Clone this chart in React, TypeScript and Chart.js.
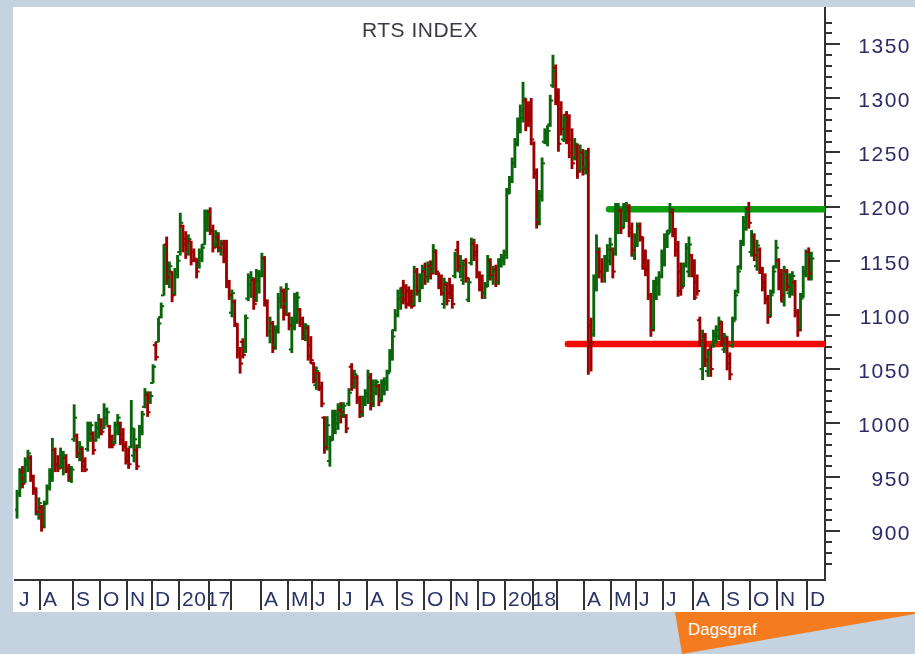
import React, { useEffect, useRef } from 'react';
import { Chart, registerables } from 'chart.js';

Chart.register(...registerables);

const chartTitle = 'RTS INDEX';
const tabLabel = 'Dagsgraf';

// Daily bars, each [open, high, low, close]
const ohlc2016: number[][] = [
  // Jul
  [920,938,912,935],[935,958,932,952],[955,960,940,944],[946,968,945,965],[962,975,955,972],[968,970,946,950],[948,952,934,940],[938,940,915,918],[916,931,911,926],
  // Aug
  [922,924,900,905],[906,928,903,925],[926,943,925,940],[940,958,938,955],[952,986,946,975],[975,977,955,960],[962,970,955,958],[960,977,958,972],[962,974,952,970],[968,971,954,956],[958,962,946,948],[947,960,945,957],
  // Sep
  [985,1017,983,1005],[988,990,968,972],[970,983,965,978],[976,978,955,960],[965,968,955,957],[976,1001,974,995],[985,1001,983,998],[990,992,971,975],[984,1001,983,996],[995,1008,986,1003],
  // Oct
  [1003,1004,989,992],[995,1018,995,1012],[1005,1014,998,1010],[997,998,977,980],[988,989,977,980],[982,1001,981,998],[992,1008,989,1005],[1000,1001,980,985],[990,995,974,978],[980,983,962,965],
  // Nov
  [970,977,958,962],[978,1021,977,995],[970,995,964,985],[975,980,957,960],[978,998,977,992],[992,1011,989,1008],[1015,1032,1014,1028],[1026,1029,1006,1010],[1020,1029,1018,1025],
  // Dec
  [1037,1054,1037,1052],[1072,1075,1058,1061],[1075,1097,1075,1092],[1098,1111,1097,1108],[1118,1165,1118,1160],[1165,1172,1128,1135],[1130,1149,1125,1145],[1140,1140,1112,1118],[1120,1143,1118,1138],[1138,1155,1134,1150],
];

const ohlc2017: number[][] = [
  // Jan
  [1158,1194,1155,1185],[1182,1183,1158,1165],[1170,1177,1152,1158],[1158,1174,1155,1170],[1168,1168,1146,1150],[1158,1161,1149,1152],[1150,1152,1134,1140],[1145,1161,1143,1158],[1152,1165,1149,1162],[1165,1197,1165,1190],[1185,1197,1177,1192],
  // Feb
  [1195,1199,1174,1178],[1178,1183,1158,1162],[1165,1178,1162,1175],[1172,1176,1158,1162],[1160,1169,1155,1165],[1166,1169,1148,1152],[1160,1169,1125,1130],[1130,1132,1114,1118],
  // Mar
  [1102,1123,1098,1120],[1112,1114,1089,1092],[1090,1092,1060,1065],[1065,1070,1046,1055],[1075,1078,1060,1063],[1070,1100,1065,1097],[1115,1138,1113,1135],[1128,1140,1116,1134],[1132,1134,1105,1110],[1115,1142,1112,1138],[1132,1141,1120,1136],
  // Apr
  [1138,1157,1135,1152],[1152,1154,1108,1112],[1112,1114,1080,1085],[1085,1098,1074,1092],[1092,1094,1065,1070],[1072,1090,1068,1086],[1085,1120,1083,1115],[1112,1126,1106,1122],[1122,1124,1095,1100],[1110,1129,1100,1124],
  // May
  [1100,1102,1086,1090],[1068,1098,1065,1094],[1090,1120,1086,1115],[1112,1121,1092,1116],[1105,1106,1089,1092],[1096,1098,1077,1080],[1080,1092,1076,1090],[1088,1090,1058,1062],[1072,1080,1055,1058],
  // Jun
  [1055,1056,1037,1040],[1035,1052,1031,1048],[1046,1047,1030,1033],[1032,1038,1015,1018],[1005,1006,972,978],[980,1006,975,998],[965,988,960,984],[985,1012,984,1008],[996,1012,990,1008],[1000,1018,994,1015],
  // Jul
  [1012,1019,1000,1010],[1008,1019,1005,1016],[1006,1008,991,995],[1018,1032,1016,1028],[1052,1055,1030,1034],[1034,1049,1032,1045],[1042,1044,1018,1022],[1022,1025,1005,1010],[1008,1025,1006,1020],[1018,1031,1016,1028],
  // Aug
  [1025,1049,1018,1042],[1042,1046,1012,1018],[1020,1040,1015,1035],[1028,1040,1026,1038],[1034,1036,1016,1020],[1022,1040,1020,1036],[1034,1042,1026,1038],[1036,1049,1030,1046],[1048,1068,1047,1065],[1064,1086,1058,1080],[1086,1105,1085,1100],
  // Sep
  [1100,1123,1098,1120],[1115,1125,1105,1118],[1125,1132,1110,1114],[1126,1128,1106,1110],[1122,1126,1108,1112],[1120,1123,1106,1108],[1110,1145,1108,1140],[1140,1143,1118,1122],[1120,1138,1112,1132],[1126,1146,1124,1142],
  // Oct
  [1140,1148,1128,1135],[1134,1149,1130,1145],[1145,1150,1133,1138],[1140,1165,1138,1160],[1158,1160,1137,1140],[1138,1139,1124,1127],[1130,1137,1118,1120],[1110,1134,1106,1130],[1128,1130,1109,1113],[1120,1134,1115,1118],
  // Nov
  [1125,1128,1106,1110],[1136,1158,1134,1155],[1160,1168,1140,1145],[1140,1155,1134,1150],[1132,1149,1128,1146],[1150,1152,1130,1134],[1114,1134,1112,1130],[1148,1171,1146,1168],[1166,1170,1150,1155],[1158,1165,1134,1138],
  // Dec
  [1138,1140,1122,1125],[1130,1137,1115,1120],[1120,1130,1115,1126],[1128,1155,1126,1150],[1150,1152,1132,1136],[1135,1145,1128,1140],[1142,1146,1126,1130],[1130,1152,1128,1148],[1146,1156,1144,1153],[1150,1160,1146,1158],
];

const ohlc2018: number[][] = [
  // Jan
  [1155,1217,1152,1212],[1214,1228,1212,1224],[1224,1245,1222,1240],[1240,1263,1236,1258],[1258,1282,1256,1276],[1272,1294,1268,1288],[1282,1315,1278,1300],[1298,1300,1270,1278],[1292,1297,1274,1280],[1285,1300,1257,1262],
  // Feb
  [1258,1260,1226,1230],[1232,1235,1180,1186],[1188,1215,1183,1210],[1210,1245,1205,1240],[1260,1272,1258,1268],[1262,1275,1256,1270],[1276,1303,1274,1298],[1312,1340,1310,1325],[1328,1331,1294,1298],
  // Mar
  [1305,1309,1251,1258],[1290,1297,1266,1272],[1262,1285,1260,1280],[1285,1288,1258,1264],[1278,1285,1245,1250],[1262,1272,1235,1240],[1245,1263,1243,1258],[1256,1258,1226,1232],[1234,1257,1232,1250],[1250,1253,1229,1235],
  // Apr
  [1236,1252,1230,1245],[1245,1254,1045,1090],[1090,1097,1048,1075],[1082,1137,1080,1130],[1125,1174,1122,1160],[1158,1162,1134,1140],[1140,1152,1130,1136],[1136,1155,1130,1150],[1142,1165,1140,1160],[1150,1171,1146,1165],
  // May
  [1160,1162,1134,1140],[1160,1203,1155,1195],[1185,1203,1175,1196],[1196,1198,1175,1180],[1182,1203,1180,1198],[1190,1204,1186,1200],[1200,1202,1172,1176],[1180,1185,1154,1160],[1155,1175,1151,1170],
  // Jun
  [1168,1185,1163,1180],[1182,1185,1168,1172],[1170,1172,1142,1148],[1150,1160,1136,1140],[1142,1151,1114,1118],[1118,1120,1080,1086],[1088,1132,1085,1126],[1118,1135,1114,1130],[1128,1140,1118,1136],[1136,1160,1134,1155],
  // Jul
  [1150,1175,1145,1170],[1165,1178,1162,1175],[1178,1203,1176,1196],[1195,1198,1172,1178],[1176,1180,1154,1160],[1165,1168,1117,1122],[1140,1148,1118,1125],[1128,1148,1126,1145],[1146,1166,1144,1162],[1140,1172,1135,1165],[1155,1156,1135,1138],
  // Aug
  [1148,1151,1114,1116],[1130,1137,1118,1122],[1095,1098,1071,1076],[1050,1086,1040,1080],[1080,1083,1052,1058],[1048,1068,1043,1064],[1068,1071,1043,1050],[1072,1086,1070,1082],[1080,1090,1074,1086],[1080,1098,1077,1094],[1092,1094,1071,1075],
  // Sep
  [1068,1083,1065,1080],[1078,1080,1049,1055],[1062,1065,1040,1045],[1072,1098,1070,1094],[1096,1123,1095,1118],[1122,1145,1120,1140],[1145,1169,1142,1165],[1166,1191,1164,1186],[1180,1200,1178,1195],[1198,1204,1180,1185],
  // Oct
  [1158,1178,1154,1172],[1172,1175,1150,1155],[1145,1169,1141,1164],[1160,1162,1138,1142],[1142,1144,1122,1126],[1130,1138,1110,1114],[1115,1118,1092,1098],[1100,1123,1098,1118],[1120,1145,1120,1140],[1145,1169,1143,1162],
  // Nov
  [1150,1152,1123,1128],[1135,1142,1112,1118],[1112,1145,1108,1138],[1140,1142,1122,1126],[1120,1138,1116,1134],[1130,1140,1118,1136],[1130,1132,1098,1102],[1102,1105,1080,1086],[1088,1120,1085,1115],[1118,1145,1116,1140],[1138,1160,1135,1155],
  // Dec
  [1158,1162,1132,1138],[1136,1158,1132,1152],
];

// Month cells along the time axis (label, trading bars in that month)
const monthLabels = ['J','A','S','O','N','D','2017','','','A','M','J','J','A','S','O','N','D','2018','','','A','M','J','J','A','S','O','N','D'];
const monthBarCounts = [9,12,10,10,9,10, 11,8,11,10,9,10,10,11,10,10,10,10, 10,9,10,10,9,10,11,11,10,10,11,2];

// Horizontal levels
const resistanceLevel = 1197.5;
const resistanceStartBar = 217.6;
const supportLevel = 1073;
const supportStartBar = 202.5;

// Axis ranges
const yMin = 855;
const yMax = 1383.5;
const yStep = 10;
const yLabelStep = 50;
const xMin = -0.75;
const xMax = 297;

const FONT = '"Liberation Sans", Arial, sans-serif';
const UP = '#0a650a';
const DOWN = '#9c0000';

const decorPlugin = {
  id: 'decor',
  beforeDraw(chart: any) {
    (chart.ctx as any).letterSpacing = '1.5px';
  },
  afterDraw(chart: any) {
    const { ctx, chartArea, scales } = chart;
    const xs = scales.x;
    const ys = scales.y;
    ctx.save();
    (ctx as any).letterSpacing = '0px';
    // y-axis tick marks (major / minor)
    ctx.strokeStyle = '#333333';
    ctx.lineWidth = 2;
    ys.ticks.forEach((t: any) => {
      const v = t.value;
      if (Math.abs(v / yStep - Math.round(v / yStep)) > 1e-6) return;
      const py = Math.round(ys.getPixelForValue(v));
      const len = Math.abs(v % yLabelStep) < 1e-6 ? 15 : 7;
      ctx.beginPath();
      ctx.moveTo(chartArea.right, py);
      ctx.lineTo(chartArea.right + len, py);
      ctx.stroke();
    });
    // month cells
    const top = chartArea.bottom;
    const bottom = chartArea.bottom + 30;
    ctx.font = '21px ' + FONT;
    ctx.fillStyle = '#2a3468';
    ctx.textBaseline = 'alphabetic';
    ctx.textAlign = 'left';
    (ctx as any).letterSpacing = '0.5px';
    let start = 0;
    monthBarCounts.forEach((n, k) => {
      const px = Math.round(xs.getPixelForValue(start - 0.5));
      if (k > 0) {
        ctx.beginPath();
        ctx.moveTo(px, top);
        ctx.lineTo(px, bottom);
        ctx.stroke();
      }
      if (monthLabels[k]) ctx.fillText(monthLabels[k], px + 3, top + 26);
      start += n;
    });
    // title
    ctx.font = '21px ' + FONT;
    ctx.fillStyle = '#3a3a46';
    ctx.textAlign = 'center';
    (ctx as any).letterSpacing = '0.5px';
    ctx.fillText(chartTitle, (chartArea.left + chartArea.right) / 2, chartArea.top + 28.5);
    ctx.restore();
    (ctx as any).letterSpacing = '0px';
  },
};

export default function App() {
  const ref = useRef<HTMLCanvasElement>(null);

  useEffect(() => {
    const bars = [...ohlc2016, ...ohlc2017, ...ohlc2018];
    const colors = bars.map((b) => (b[3] >= b[0] ? UP : DOWN));
    const chart = new Chart(ref.current as HTMLCanvasElement, {
      type: 'bar',
      data: {
        datasets: [
          {
            type: 'line',
            data: [{ x: resistanceStartBar, y: resistanceLevel }, { x: xMax, y: resistanceLevel }],
            borderColor: '#0c9e0c',
            borderWidth: 6.5,
            borderCapStyle: 'round',
            pointRadius: 0,
            clip: 0,
            order: 10,
          } as any,
          {
            type: 'line',
            data: [{ x: supportStartBar, y: supportLevel }, { x: xMax, y: supportLevel }],
            borderColor: '#f50a0a',
            borderWidth: 6.5,
            borderCapStyle: 'round',
            pointRadius: 0,
            clip: 0,
            order: 10,
          } as any,
          {
            type: 'bar',
            data: bars.map((b, i) => ({ x: i, y: [b[2], b[1]] })),
            backgroundColor: colors,
            borderWidth: 0,
            barThickness: 2.2,
            grouped: false,
            order: 2,
          } as any,
          {
            type: 'line',
            data: bars.map((b, i) => ({ x: i - 0.55, y: b[0] })),
            showLine: false,
            pointStyle: 'line',
            pointRadius: 1.5,
            pointBorderWidth: 2,
            pointBorderColor: colors,
            pointBackgroundColor: colors,
            pointHoverRadius: 0,
            order: 1,
          } as any,
          {
            type: 'line',
            data: bars.map((b, i) => ({ x: i + 0.55, y: b[3] })),
            showLine: false,
            pointStyle: 'line',
            pointRadius: 1.5,
            pointBorderWidth: 2,
            pointBorderColor: colors,
            pointBackgroundColor: colors,
            pointHoverRadius: 0,
            order: 1,
          } as any,
        ],
      },
      options: {
        responsive: false,
        animation: false,
        devicePixelRatio: 1,
        events: [],
        layout: { padding: { left: 15, right: 4, top: 8, bottom: 44 } },
        plugins: {
          legend: { display: false },
          tooltip: { enabled: false },
          title: { display: false },
        },
        scales: {
          x: {
            type: 'linear',
            min: xMin,
            max: xMax,
            offset: false,
            grid: { display: false, drawTicks: false },
            ticks: { display: false },
            border: { display: true, color: '#333333', width: 2 },
            afterFit: (s: any) => {
              s.height = 30;
              s.paddingLeft = 0;
              s.paddingRight = 0;
            },
          },
          y: {
            type: 'linear',
            position: 'right',
            min: yMin,
            max: yMax,
            grid: { display: false, drawTicks: false, tickLength: 0 },
            border: { display: true, color: '#333333', width: 2 },
            ticks: {
              stepSize: yStep,
              autoSkip: false,
              crossAlign: 'far',
              padding: 34,
              labelOffset: 3,
              color: '#2b2b66',
              font: { family: FONT, size: 21 },
              callback: (v: any) => (Math.abs(Number(v) % yLabelStep) < 1e-6 ? String(v) : ''),
            },
            afterFit: (s: any) => {
              s.width = 86;
              s.paddingTop = 0;
              s.paddingBottom = 0;
            },
          },
        },
      } as any,
      plugins: [decorPlugin],
    });
    return () => chart.destroy();
  }, []);

  return (
    <div style={{ position: 'absolute', left: 0, top: 0, width: 915, height: 654, background: '#c5d2df', overflow: 'hidden' }}>
      <div style={{ position: 'absolute', left: 13, top: 7, width: 902, height: 605, background: '#ffffff' }} />
      <svg width={915} height={654} style={{ position: 'absolute', left: 0, top: 0 }}>
        <polygon points="675,612 915,612 915,614 682,654" fill="#f47b20" />
        <text x={688} y={635} fill="#ffffff" fontSize={17} fontFamily={FONT}>{tabLabel}</text>
      </svg>
      <canvas ref={ref} width={915} height={654} style={{ position: 'absolute', left: 0, top: 0, width: 915, height: 654 }} />
    </div>
  );
}
